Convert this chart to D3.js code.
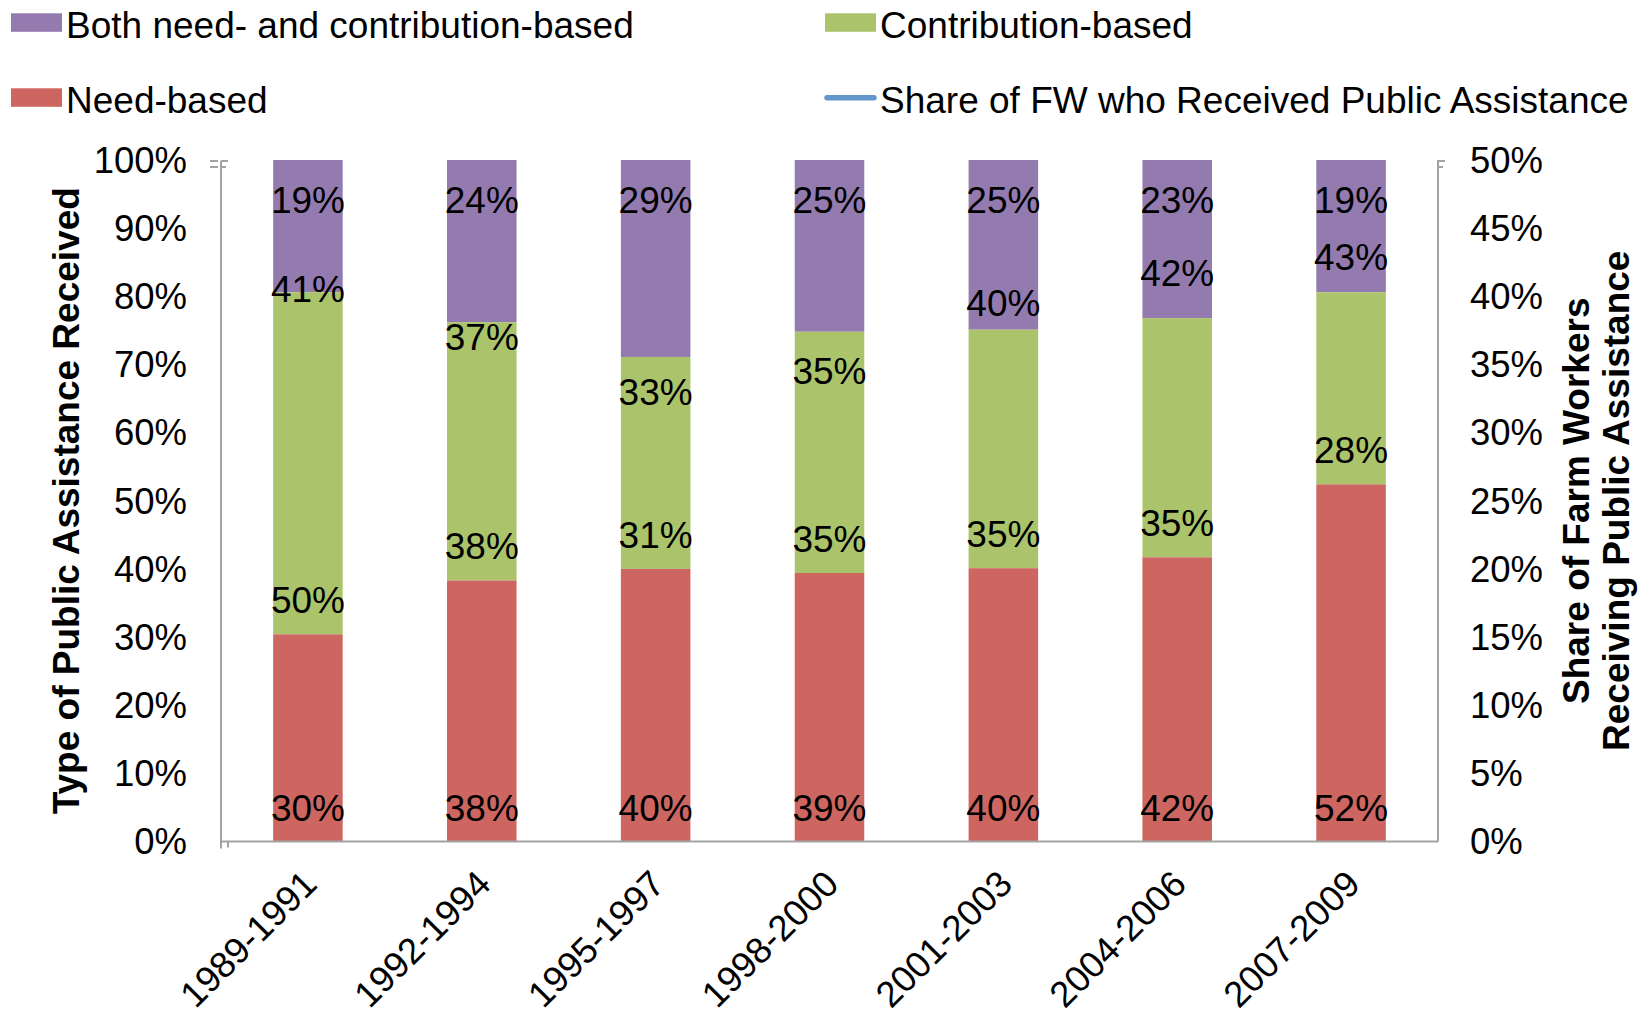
<!DOCTYPE html>
<html>
<head>
<meta charset="utf-8">
<script src="https://cdn.jsdelivr.net/npm/d3@7"></script>
<style>
  html, body { margin: 0; padding: 0; background: #ffffff; }
  svg { display: block; }
  text { font-family: "Liberation Sans", Arial, sans-serif; fill: #000; }
</style>
</head>
<body>
<svg id="chart" width="1641" height="1014"></svg>
<script>
// ---- data ----
const categories = ["1989-1991", "1992-1994", "1995-1997", "1998-2000", "2001-2003", "2004-2006", "2007-2009"];
const needBased = [30.4, 38.3, 40.0, 39.4, 40.1, 41.7, 52.4];
const contributionBased = [50.2, 37.9, 31.1, 35.4, 35.0, 35.1, 28.2];
const bothBased = [19.4, 23.8, 28.9, 25.2, 24.9, 23.2, 19.4];
const shareReceived = [40.5, 37.0, 33.0, 34.5, 39.5, 41.7, 42.9];
const leftTicks = [0, 10, 20, 30, 40, 50, 60, 70, 80, 90, 100];
const rightTicks = [0, 5, 10, 15, 20, 25, 30, 35, 40, 45, 50];
const legendItems = [
  { name: "Both need- and contribution-based", type: "rect", key: "both" },
  { name: "Contribution-based", type: "rect", key: "contrib" },
  { name: "Need-based", type: "rect", key: "need" },
  { name: "Share of FW who Received Public Assistance", type: "line", key: "share" }
];

const colors = { need: "#cd6661", contrib: "#abc46c", both: "#937bb0", share: "#6397cb" };
const axisColor = "#a3a3a3";
const fs = 37;
const tickFs = 36.5;

const svg = d3.select("#chart");
const pLeft = 221, pRight = 1438, pTop = 160, pBottom = 841.5;

const x = d3.scaleBand().domain(categories).range([pLeft, pRight]).paddingInner(0.6).paddingOuter(0.3);
const y = d3.scaleLinear().domain([0, 100]).range([pBottom, pTop]);
const y2 = d3.scaleLinear().domain([0, 50]).range([pBottom, pTop]);

// stacked data
const rows = categories.map((c, i) => ({ cat: c, need: needBased[i], contrib: contributionBased[i], both: bothBased[i] }));
const stack = d3.stack().keys(["need", "contrib", "both"]);
const series = stack(rows);
const byKey = {};
series.forEach(s => byKey[s.key] = s);

const gBars = svg.append("g");
function drawBars(key) {
  gBars.append("g").selectAll("rect").data(byKey[key]).join("rect")
    .attr("x", d => x(d.data.cat))
    .attr("width", x.bandwidth())
    .attr("y", d => y(d[1]))
    .attr("height", d => y(d[0]) - y(d[1]))
    .attr("fill", colors[key]);
}
drawBars("both");
drawBars("contrib");
drawBars("need");

// bar labels
const gLabels = svg.append("g");
gLabels.append("g").selectAll("text").data(byKey.need).join("text")
  .attr("x", d => x(d.data.cat) + x.bandwidth() / 2)
  .attr("y", d => y(d[0]) - 21)
  .attr("text-anchor", "middle").attr("font-size", fs)
  .text(d => Math.round(d[1] - d[0]) + "%");
gLabels.append("g").selectAll("text").data(byKey.contrib).join("text")
  .attr("x", d => x(d.data.cat) + x.bandwidth() / 2)
  .attr("y", d => y(d[0]) - 21)
  .attr("text-anchor", "middle").attr("font-size", fs)
  .text(d => Math.round(d[1] - d[0]) + "%");
gLabels.append("g").selectAll("text").data(byKey.both).join("text")
  .attr("x", d => x(d.data.cat) + x.bandwidth() / 2)
  .attr("y", d => y(d[1]) + 52.5)
  .attr("text-anchor", "middle").attr("font-size", fs)
  .text(d => Math.round(d[1] - d[0]) + "%");

// line series labels (the line itself is not visible in the chart)
gLabels.append("g").selectAll("text").data(shareReceived).join("text")
  .attr("x", (d, i) => x(categories[i]) + x.bandwidth() / 2)
  .attr("y", d => y2(d))
  .attr("dy", "0.35em")
  .attr("text-anchor", "middle")
  .attr("font-size", fs)
  .text(d => Math.round(d) + "%");

// axes lines
const gAxis = svg.append("g").attr("stroke", axisColor).attr("stroke-width", 2);
gAxis.append("line").attr("x1", pLeft).attr("x2", pLeft).attr("y1", y(100) + 1).attr("y2", pBottom + 7);
gAxis.append("line").attr("x1", pRight).attr("x2", pRight).attr("y1", y2(50)).attr("y2", pBottom);
gAxis.append("line").attr("x1", pLeft).attr("x2", pRight).attr("y1", pBottom).attr("y2", pBottom);
gAxis.append("line").attr("x1", pLeft - 11).attr("x2", pLeft - 3).attr("y1", y(100) + 1).attr("y2", y(100) + 1);
gAxis.append("line").attr("x1", pLeft - 11).attr("x2", pLeft - 3).attr("y1", y(100) + 7).attr("y2", y(100) + 7);
gAxis.append("line").attr("x1", pLeft).attr("x2", pLeft + 7).attr("y1", y(100) + 1).attr("y2", y(100) + 1);
gAxis.append("line").attr("x1", pLeft).attr("x2", pLeft + 5).attr("y1", y(100) + 7).attr("y2", y(100) + 7);
gAxis.append("line").attr("x1", pRight).attr("x2", pRight + 7).attr("y1", y2(50) + 1).attr("y2", y2(50) + 1);
gAxis.append("line").attr("x1", pRight).attr("x2", pRight + 5).attr("y1", y2(50) + 7).attr("y2", y2(50) + 7);
gAxis.append("line").attr("x1", pLeft + 7).attr("x2", pLeft + 7).attr("y1", pBottom).attr("y2", pBottom + 6);

// tick labels
svg.append("g").selectAll("text").data(leftTicks).join("text")
  .attr("x", 187).attr("y", d => y(d)).attr("dy", "0.35em")
  .attr("text-anchor", "end").attr("font-size", tickFs)
  .text(d => d + "%");
svg.append("g").selectAll("text").data(rightTicks).join("text")
  .attr("x", 1470).attr("y", d => y2(d)).attr("dy", "0.35em")
  .attr("text-anchor", "start").attr("font-size", tickFs)
  .text(d => d + "%");

// category labels
svg.append("g").selectAll("text").data(categories).join("text")
  .attr("transform", d => `translate(${x(d) + x.bandwidth() / 2 + 2},${877}) rotate(-45)`)
  .attr("dy", "0.35em")
  .attr("text-anchor", "end").attr("font-size", tickFs)
  .text(d => d);

// axis titles
svg.append("text")
  .attr("transform", `translate(79,${(pTop + pBottom) / 2}) rotate(-90)`)
  .attr("text-anchor", "middle").attr("font-size", fs).attr("font-weight", "bold")
  .text("Type of Public Assistance Received");
const rt = svg.append("text")
  .attr("transform", `translate(1589,${(pTop + pBottom) / 2}) rotate(-90)`)
  .attr("text-anchor", "middle").attr("font-size", fs).attr("font-weight", "bold");
rt.append("tspan").attr("x", 0).attr("y", 0).text("Share of Farm Workers");
rt.append("tspan").attr("x", 0).attr("y", 40).text("Receiving Public Assistance");

// legend
const legendPos = [
  { sx: 11, ty: 38.3 }, { sx: 825, ty: 38.3 },
  { sx: 11, ty: 113.3 }, { sx: 825, ty: 113.3 }
];
const gLeg = svg.append("g");
legendItems.forEach((it, i) => {
  const p = legendPos[i];
  if (it.type === "rect") {
    gLeg.append("rect").attr("x", p.sx).attr("y", p.ty - 25).attr("width", 51).attr("height", 18.5)
      .attr("fill", colors[it.key]);
  } else {
    gLeg.append("line").attr("x1", p.sx + 2).attr("x2", p.sx + 49).attr("y1", p.ty - 15.5).attr("y2", p.ty - 15.5)
      .attr("stroke", colors[it.key]).attr("stroke-width", 5.5).attr("stroke-linecap", "round");
  }
  gLeg.append("text").attr("x", p.sx + 55).attr("y", p.ty).attr("font-size", fs).text(it.name);
});
</script>
</body>
</html>
